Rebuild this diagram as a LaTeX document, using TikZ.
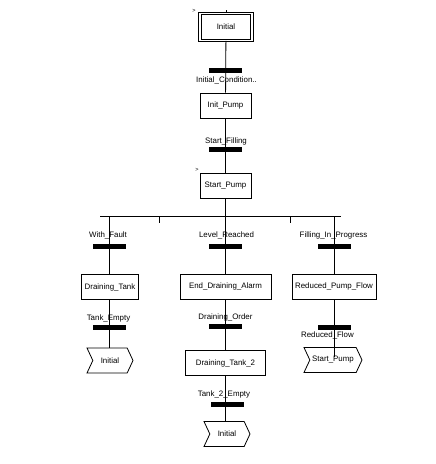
\documentclass[tikz,border=0pt]{standalone}
\usepackage{fontspec}
\setmainfont{Liberation Sans}
\usetikzlibrary{shapes.symbols}
\tikzset{
  stepbox/.style={draw, line width=0.8pt, minimum height=25pt, inner sep=1pt,
    font=\fontsize{7.9}{9}\selectfont},
  initbox/.style={stepbox, double, double distance=1.6pt},
  transbar/.style={fill=black, minimum width=33pt, minimum height=5pt, inner sep=0pt},
  cond/.style={inner sep=0pt, font=\fontsize{7.9}{9}\selectfont},
  jumpsig/.style={draw, line width=0.8pt, shape=signal, signal from=west, signal to=east,
    signal pointer angle=130, minimum height=25pt, inner sep=1pt,
    font=\fontsize{7.9}{9}\selectfont},
  actmark/.style={inner sep=0pt, font=\fontsize{5.5}{5}\selectfont},
  link/.style={line width=0.8pt}
}
\begin{document}
\begin{tikzpicture}[x=1pt,y=-1pt]
            \useasboundingbox (0,0) rectangle (436,464);
            % steps
            \node[initbox, minimum width=52pt, minimum height=27pt] (init) at (226,27) {Initial};
            \node[stepbox, minimum width=51pt] (initpump) at (225.5,105.5) {Init\_Pump};
            \node[stepbox, minimum width=51pt] (startpump) at (225.5,185.5) {Start\_Pump};
            \node[stepbox, minimum width=57pt] (draintank) at (110,287) {Draining\_Tank};
            \node[stepbox, minimum width=91pt] (alarm) at (225.5,286.5) {End\_Draining\_Alarm};
            \node[stepbox, minimum width=84pt] (pumpflow) at (334,286.5) {Reduced\_Pump\_Flow};
            \node[stepbox, minimum width=80pt] (draintwo) at (225.5,363) {Draining\_Tank\_2};
            % jumps
            \node[jumpsig, minimum width=46pt] (jumpL) at (110,360.5) {Initial};
            \node[jumpsig, minimum width=46pt] (jumpM) at (227,434) {Initial};
            \node[jumpsig, minimum width=58pt] (jumpR) at (333,360) {Start\_Pump};
            % active marks
            \node[actmark] (markA) at (194,10.5) {>};
            \node[actmark] (markB) at (197,169.5) {>};
            % transitions
            \node[transbar] (t1) at (225.5,70) {};
            \node[transbar] (t2) at (225.5,149.5) {};
            \node[transbar] (t3) at (109,246.5) {};
            \node[transbar] (t4) at (225.5,246.5) {};
            \node[transbar] (t5) at (334,246.5) {};
            \node[transbar] (t6) at (109,327.5) {};
            \node[transbar] (t7) at (225.5,326.5) {};
            \node[transbar] (t8) at (334,327.5) {};
            \node[transbar] (t9) at (227,404.5) {};
            % conditions
            \node[cond] (c1) at (226.5,80) {Initial\_Condition..};
            \node[cond] (c2) at (226,141) {Start\_Filling};
            \node[cond] (c3) at (108,235) {With\_Fault};
            \node[cond] (c4) at (226.5,235) {Level\_Reached};
            \node[cond] (c5) at (333.5,235) {Filling\_In\_Progress};
            \node[cond] (c6) at (108.5,318) {Tank\_Empty};
            \node[cond] (c7) at (225.5,317) {Draining\_Order};
            \node[cond] (c8) at (327.5,335) {Reduced\_Flow};
            \node[cond] (c9) at (224,394) {Tank\_2\_Empty};
            % links
            \coordinate (top) at (226,10);
            \coordinate (splitL) at (100,216);
            \coordinate (splitR) at (341,216);
            \coordinate (bL) at (109,216);
            \coordinate (bR) at (334,216);
            \coordinate (rend) at (334,357);
            \draw[link] (top) -- (init);
            \draw[link] (init) -- (initpump);
            \draw[link] (initpump) -- (startpump);
            \draw[link] (startpump) -- (alarm);
            \draw[link] (splitL) -- (splitR);
            \foreach \x in {159,290}
                {
                    \draw[link] (\x,216)--(\x,223);
                }
            \draw[link] (bL) -- (bL |- draintank.north);
            \draw[link] (bL |- draintank.south) -- (bL |- jumpL.north);
            \draw[link] (alarm) -- (draintwo);
            \draw[link] (draintwo) -- (jumpM.north -| draintwo);
            \draw[link] (bR) -- (pumpflow);
            \draw[link] (pumpflow) -- (rend);
        \end{tikzpicture}
\end{document}
